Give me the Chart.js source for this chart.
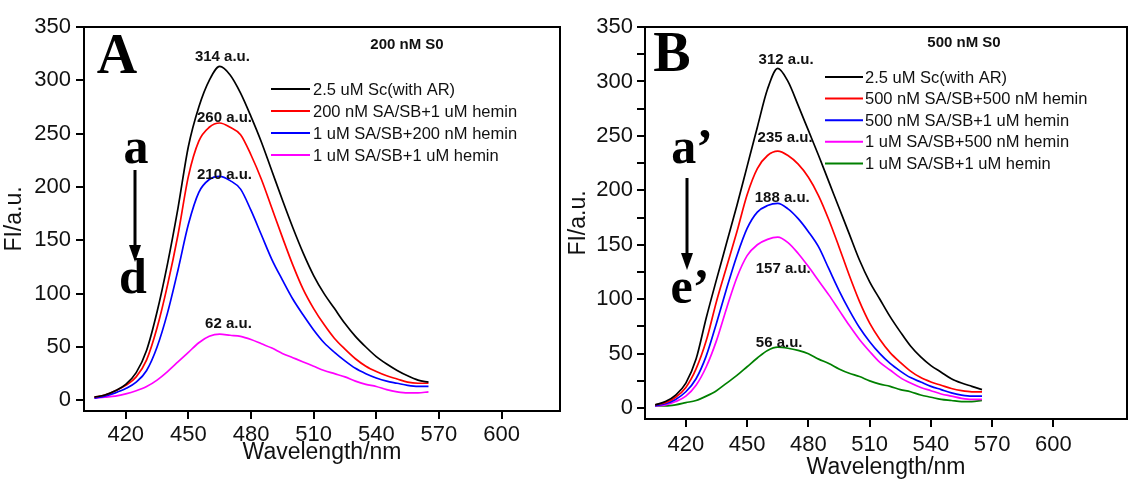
<!DOCTYPE html>
<html><head><meta charset="utf-8">
<script src="https://cdn.jsdelivr.net/npm/chart.js@4.4.1/dist/chart.umd.min.js"></script>
<style>
html,body{margin:0;padding:0;background:#fff;}
#wrap{position:relative;width:1129px;height:479px;overflow:hidden;background:#fff;}
#cA{position:absolute;left:0;top:0;}
#cB{position:absolute;left:565px;top:0;}
</style></head><body>
<div id="wrap"><canvas id="cA" width="565" height="479"></canvas><canvas id="cB" width="564" height="479"></canvas></div>
<script>
// ---------- data ----------
const wavelengths = [405,410,415,420,425,430,435,440,445,450,455,460,465,470,475,480,485,490,495,500,505,510,515,520,525,530,535,540,545,550,555,560,565];
const xTicks = [420,450,480,510,540,570,600];
const yTicksA = [0,50,100,150,200,250,300,350];
const yTicksB = [0,25,50,75,100,125,150,175,200,225,250,275,300,325,350];

const labelsA = ["2.5 uM Sc(with AR)","200 nM SA/SB+1 uM hemin","1 uM SA/SB+200 nM hemin","1 uM SA/SB+1 uM hemin"];
const labelsB = ["2.5 uM Sc(with AR)","500 nM SA/SB+500 nM hemin","500 nM SA/SB+1 uM hemin","1 uM SA/SB+500 nM hemin","1 uM SA/SB+1 uM hemin"];

// Panel A (200 nM S0)
const aBlack   = [3,5,9,15,26,47,83,128,180,238,275,300,313,305,288,266,242,215,188,162,138,117,100,86,72,60,50,41,34,28,23,19,17];
const aRed     = [3,5,9,14,22,38,68,108,155,210,243,256,260,256,249,230,207,180,153,127,104,86,71,58,48,39,32,27,23,20,17,16,16];
const aBlue    = [2,4,7,11,17,28,50,82,122,165,195,207,210,206,198,178,155,132,113,95,80,66,54,45,37,30,25,21,18,16,14,13,13];
const aMagenta = [2,3,4,6,9,13,19,27,36,45,54,60,62,61,60,57,53,49,44,40,36,32,28,25,22,18,15,13,10,8,7,7,8];

// Panel B (500 nM S0)
const bBlack   = [3,6,12,23,45,83,118,152,186,222,258,293,312,300,278,255,232,208,184,160,136,116,100,84,70,57,47,39,33,27,23,20,17];
const bRed     = [3,5,10,19,36,62,98,130,162,196,220,232,236,232,224,212,195,173,148,122,98,78,63,51,42,34,28,24,21,18,16,15,15];
const bBlue    = [2,4,8,15,27,48,78,110,140,165,180,186,188,183,174,162,148,128,108,90,74,61,50,41,34,28,24,20,17,14,12,11,11];
const bMagenta = [2,3,6,11,21,38,62,92,120,140,150,155,157,152,142,130,117,104,90,76,63,52,42,35,28,23,19,16,13,11,9,8,8];
const bGreen   = [2,2,3,5,7,11,16,23,30,38,46,53,56,55,53,50,45,41,36,32,29,25,22,20,17,15,12,10,8,7,6,6,7];

const peakTextA = ["314 a.u.","260 a.u.","210 a.u.","62 a.u."];
const peakTextB = ["312 a.u.","235 a.u.","188 a.u.","157 a.u.","56 a.u."];

// ---------- styling / helpers ----------
const SANS = '"Liberation Sans", Arial, sans-serif';
const SERIF = '"Liberation Serif", "Times New Roman", serif';
const colorsA = ['#000000','#ff0000','#0000ff','#ff00ff'];
const colorsB = ['#000000','#ff0000','#0000ff','#ff00ff','#008000'];

function pts(arr){ return wavelengths.map((w,i)=>({x:w,y:arr[i]})); }
function makeSets(labels, series, colors){
  return series.map((s,i)=>({label:labels[i], data:pts(s), borderColor:colors[i], backgroundColor:colors[i],
    borderWidth:1.7, pointRadius:0, fill:false, cubicInterpolationMode:'monotone'}));
}

function makeAnnot(cfg){
  return {
    id:'annot',
    afterDraw(chart){
      const ctx = chart.ctx, a = chart.chartArea, xs = chart.scales.x, ys = chart.scales.y;
      ctx.save();
      // frame
      ctx.strokeStyle='#000'; ctx.lineWidth=2;
      ctx.strokeRect(a.left, a.top, a.right-a.left, a.bottom-a.top);
      // peak labels (data coords)
      ctx.fillStyle='#111'; ctx.font='bold 15px '+SANS; ctx.textAlign='center'; ctx.textBaseline='middle';
      cfg.peaks.forEach((p,i)=>{ ctx.fillText(cfg.peakText[i], xs.getPixelForValue(p[0]), ys.getPixelForValue(p[1])); });
      // title
      ctx.font='bold 15px '+SANS;
      ctx.fillText(cfg.title.text, cfg.title.x, cfg.title.y);
      // legend
      ctx.font='16.5px '+SANS; ctx.textAlign='left';
      chart.data.datasets.forEach((d,i)=>{
        const y = cfg.legend.y0 + i*cfg.legend.dy;
        ctx.strokeStyle=d.borderColor; ctx.lineWidth=2;
        ctx.beginPath(); ctx.moveTo(cfg.legend.x1,y); ctx.lineTo(cfg.legend.x2,y); ctx.stroke();
        ctx.fillStyle='#111'; ctx.fillText(d.label, cfg.legend.tx, y+1);
      });
      // big letters
      ctx.fillStyle='#000'; ctx.textAlign='center';
      cfg.letters.forEach(l=>{ ctx.font='bold '+l.size+'px '+SERIF; ctx.fillText(l.text, l.x, l.y); });
      // arrow
      const ar = cfg.arrow;
      ctx.strokeStyle='#000'; ctx.lineWidth=3;
      ctx.beginPath(); ctx.moveTo(ar.x, ar.y1); ctx.lineTo(ar.x, ar.y2-14); ctx.stroke();
      ctx.beginPath(); ctx.moveTo(ar.x-6, ar.y2-17); ctx.lineTo(ar.x+6, ar.y2-17); ctx.lineTo(ar.x, ar.y2); ctx.closePath(); ctx.fill();
      ctx.restore();
    }
  };
}

function makeChart(id, sets, xMax, yTicks, pad, yWidth, xHeight, xTickPad, yTickPad, yTitlePad, xTitlePad, annotCfg, minorLabels){
  return new Chart(document.getElementById(id), {
    type:'line',
    data:{datasets:sets},
    options:{
      responsive:false, animation:false, devicePixelRatio:1,
      layout:{padding:pad},
      plugins:{legend:{display:false}, tooltip:{enabled:false}},
      scales:{
        x:{type:'linear', min:400, max:xMax,
          afterBuildTicks:s=>{ s.ticks = xTicks.map(v=>({value:v})); },
          afterFit:s=>{ s.height = xHeight; },
          ticks:{color:'#111', font:{family:SANS,size:22}, padding:xTickPad, maxRotation:0, autoSkip:false, callback:v=>String(v)},
          grid:{drawOnChartArea:false, drawTicks:true, tickLength:8, color:'#000', lineWidth:2},
          border:{display:true, color:'#000', width:2},
          title:{display:true, text:'Wavelength/nm', color:'#111', font:{family:SANS,size:23}, padding:xTitlePad}
        },
        y:{min:-10, max:350,
          afterBuildTicks:s=>{ s.ticks = yTicks.map(v=>({value:v})); },
          afterFit:s=>{ s.width = yWidth; },
          ticks:{color:'#111', font:{family:SANS,size:22}, padding:yTickPad, autoSkip:false,
            callback:v=> (minorLabels || v%50===0) ? String(v) : ''},
          grid:{drawOnChartArea:false, drawTicks:true, tickLength:8, color:'#000', lineWidth:2},
          border:{display:true, color:'#000', width:2},
          title:{display:true, text:'FI/a.u.', color:'#111', font:{family:SANS,size:23}, padding:yTitlePad}
        }
      }
    },
    plugins:[makeAnnot(annotCfg)]
  });
}

// Panel A
makeChart('cA', makeSets(labelsA,[aBlack,aRed,aBlue,aMagenta],colorsA), 628, yTicksA,
  {left:0,top:27,right:5,bottom:11}, 84, 57, 3, 5, {top:1,bottom:0}, {top:0,bottom:2},
  {
    peakText:peakTextA,
    peaks:[[466.3,321.8],[467.3,264.5],[467.3,211],[469.2,71.3]],
    title:{text:'200 nM S0', x:407, y:45},
    legend:{x1:271, x2:310, tx:313, y0:89, dy:22},
    letters:[{text:'A',x:117,y:59,size:56},{text:'a',x:136,y:150,size:50},{text:'d',x:133,y:280,size:50}],
    arrow:{x:135, y1:170, y2:262}
  }, true);

// Panel B
makeChart('cB', makeSets(labelsB,[bBlack,bRed,bBlue,bMagenta,bGreen],colorsB), 636, yTicksB,
  {left:0,top:27,right:2,bottom:0}, 80, 60, 5, 4, {top:0,bottom:0}, {top:0,bottom:-2},
  {
    peakText:peakTextB,
    peaks:[[469.1,320],[468.6,248],[467.2,193],[467.7,128],[465.7,59.5]],
    title:{text:'500 nM S0', x:399, y:43},
    legend:{x1:260, x2:298, tx:300, y0:77, dy:21.6},
    letters:[{text:'B',x:107,y:57,size:56},{text:'a\u2019',x:127,y:150,size:50},{text:'e\u2019',x:125,y:290,size:50}],
    arrow:{x:122, y1:178, y2:270}
  }, false);
</script>
</body></html>
